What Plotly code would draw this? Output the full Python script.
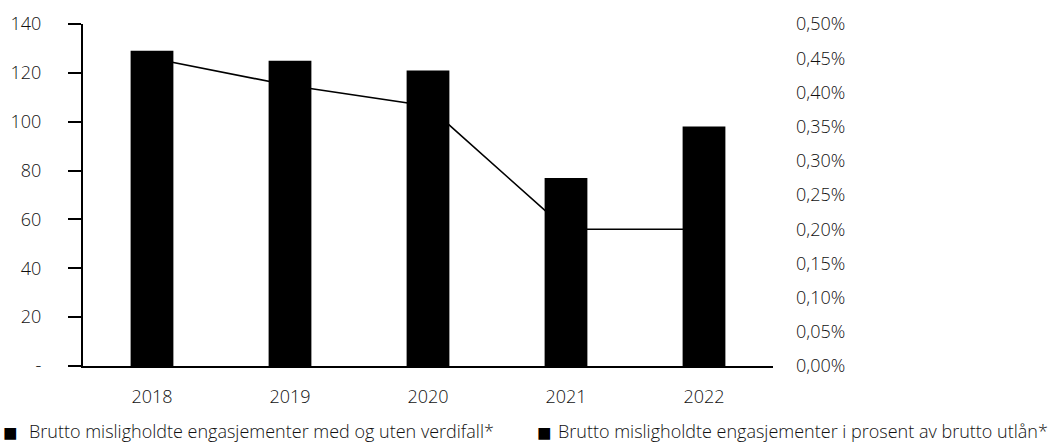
import plotly.graph_objects as go

years = ["2018", "2019", "2020", "2021", "2022"]
brutto_mnok = [129, 125, 121, 77, 98]            # left axis, MNOK
brutto_pct = [0.45, 0.41, 0.38, 0.20, 0.20]      # right axis, percent of gross lending

left_ticks = [0, 20, 40, 60, 80, 100, 120, 140]
left_ticktext = ["-", "20", "40", "60", "80", "100", "120", "140"]
right_ticks = [0.00, 0.05, 0.10, 0.15, 0.20, 0.25, 0.30, 0.35, 0.40, 0.45, 0.50]
right_ticktext = [f"{v:.2f}%".replace(".", ",") for v in right_ticks]

legend_bars = "Brutto misligholdte engasjementer med og uten verdifall*"
legend_line = "Brutto misligholdte engasjementer i prosent av brutto utlån*"

FONT = dict(family="Open Sans", size=18, color="#111111", weight=300)

fig = go.Figure()

# Percentage line on the primary axis so the bars (on the overlaying axis) sit on top of it
fig.add_trace(go.Scatter(
    x=years, y=brutto_pct, mode="lines", yaxis="y",
    line=dict(color="black", width=1.6), name=legend_line, showlegend=False,
))
fig.add_trace(go.Bar(
    x=years, y=brutto_mnok, yaxis="y2",
    marker=dict(color="black", line=dict(width=0)), name=legend_bars, showlegend=False,
))

fig.update_layout(
    width=1059, height=446,
    margin=dict(l=83, r=286, t=24, b=80),
    plot_bgcolor="white", paper_bgcolor="white",
    font=FONT,
    bargap=0.69,
    xaxis=dict(
        showgrid=False, showline=True, linecolor="black", linewidth=2,
        ticks="", ticklabelstandoff=13, tickfont=FONT,
    ),
    yaxis=dict(
        side="right", range=[0, 0.5], tickvals=right_ticks, ticktext=right_ticktext,
        showgrid=False, showline=False,
        zeroline=False, ticks="", ticklabelstandoff=22, tickfont=FONT,
    ),
    yaxis2=dict(
        side="left", overlaying="y", range=[0, 140],
        tickvals=left_ticks, ticktext=left_ticktext,
        showgrid=False, showline=True, linecolor="black", linewidth=2,
        zeroline=False, ticks="outside", ticklen=13, tickwidth=2, tickcolor="black",
        ticklabelstandoff=23, tickfont=FONT,
    ),
)

# Legend row beneath the chart (positions in pixels, converted below)
for x_sq in (1, 535):
    fig.add_annotation(
        x=x_sq, y=433, xref="paper", yref="paper", text="■",
        showarrow=False, xanchor="left", yanchor="middle",
        font=dict(family="DejaVu Sans", size=24, color="black"),
    )
for x_tx, text in [(27, legend_bars), (556, legend_line)]:
    fig.add_annotation(
        x=x_tx, y=431, xref="paper", yref="paper", text=text,
        showarrow=False, xanchor="left", yanchor="middle", font=FONT,
    )

plot_w = 1059 - 83 - 286
plot_h = 446 - 24 - 80
for ann in fig.layout.annotations:
    ann.x = (ann.x - 83) / plot_w
    ann.y = (446 - 80 - ann.y) / plot_h

fig.write_html("out.html")
